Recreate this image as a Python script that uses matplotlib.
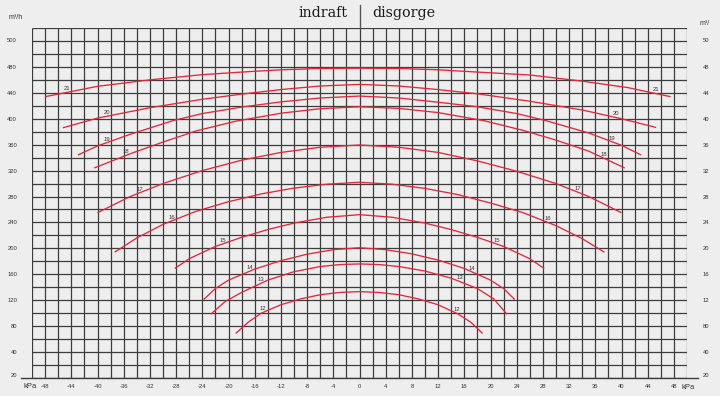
import matplotlib
matplotlib.use("Agg")
import matplotlib.pyplot as plt
import numpy as np

# pressure (kPa) / flow (m3/h) points
k21 = [-48, -40, -32, -24, -18, -12, -6, 0, 6, 12, 18, 26, 34, 41, 47.5]
v21 = [434, 450, 460, 468, 472, 475.5, 477.5, 478, 477.5, 475.5, 472, 467.5, 458, 448, 434]
k20 = [-45.3, -40, -32, -24, -18, -12, -6, 0, 6, 12, 18, 26, 34, 40, 45.3]
v20 = [386, 401, 417, 430, 438, 445, 450.5, 453, 450.5, 445, 438.5, 427, 413.5, 400, 386.5]
k19 = [-43, -40, -35, -28.5, -24, -18, -12, -6, 0, 6, 12, 18, 24, 28.5, 35, 40, 43]
v19 = [344, 358, 376, 397, 408, 418, 426, 432, 435, 432, 425.5, 418.5, 408, 397, 378, 359, 344]
k18 = [-40.5, -35, -30, -25, -19, -12, -6, 0, 6, 12, 19, 25, 30, 35, 40.5]
v18 = [324, 346, 364, 381, 396, 408.5, 415.5, 418.5, 416, 409.5, 397, 382, 367, 350, 324]
k17 = [-40, -35, -30, -24, -18, -12, -6, 0, 6, 12, 18, 24, 30, 35, 40]
v17 = [255, 280, 300, 320, 336, 348, 356, 359.5, 356, 348, 335, 319, 300, 280, 255]
k16 = [-37.4, -34, -30, -25, -20, -15, -10, -5, 0, 5, 10, 15, 20, 25, 30, 34, 37.4]
v16 = [194, 216, 237, 257, 272, 284, 293, 299, 302, 299, 292.5, 283, 270, 255, 235, 215, 194]
k15 = [-28.2, -26, -22, -18, -14, -10, -5, 0, 5, 10, 14, 18, 22, 26, 28.2]
v15 = [169, 184, 203, 217, 229, 239, 248, 252, 248, 239, 229, 217, 203, 184, 169]
k14 = [-23.8, -22, -20, -16, -12, -8, -4, 0, 4, 8, 12, 16, 20, 22, 23.7]
v14 = [121, 138, 151, 168, 181, 191, 198, 201, 198, 191.5, 182, 169, 151, 138, 121]
k13 = [-22.7, -20.5, -18, -14, -10, -6, -3, 0, 3, 6, 10, 14, 18, 20.5, 22.5]
v13 = [98.5, 118, 132, 151, 164, 172, 175, 176, 175, 172, 165, 154, 138, 122, 98.5]
k12 = [-18.9, -17, -15, -12, -9, -6, -3, 0, 3, 6, 9, 12, 15, 17, 18.8]
v12 = [68.7, 86, 100, 113, 122, 128.5, 132, 133.3, 132, 128.5, 122, 113, 99, 86, 68.7]

curve_names = ["21", "20", "19", "18", "17", "16", "15", "14", "13", "12"]
curve_k = [k21, k20, k19, k18, k17, k16, k15, k14, k13, k12]
curve_v = [v21, v20, v19, v18, v17, v16, v15, v14, v13, v12]
# where the number labels sit along each curve (left, right)
label_k = [(-44.7, 45.2), (-38.6, 39.2), (-38.6, 38.6), (-35.6, 37.3), (-33.6, 33.3),
           (-28.7, 28.7), (-20.9, 20.9), (-16.8, 17.2), (-15.0, 15.3), (-14.7, 14.9)]

x_ticks = list(range(-48, 49, 4))
x_labels = [str(t) for t in x_ticks]
y_ticks = [5, 40, 80, 120, 160, 200, 240, 280, 320, 360, 400, 440, 480, 521]
y_labels = ["20", "40", "80", "120", "160", "200", "240", "280", "320", "360",
            "400", "440", "480", "500"]
y_labels_right = ["20", "40", "80", "12", "16", "20", "24", "28", "32", "36",
                  "40", "44", "48", "50"]

BG = "#eeeeee"
GRID = "#3d3d3d"
RED = "#e3263b"
TXT = "#333333"
SANS = ["Liberation Sans", "DejaVu Sans"]

fig = plt.figure(figsize=(7.2, 3.96), dpi=100, facecolor=BG)
ax = fig.add_axes([32 / 720, 18 / 396, 655 / 720, 350 / 396])
ax.set_facecolor(BG)
ax.set_xlim(-50, 50)
ax.set_ylim(0, 540)
for s in ax.spines.values():
    s.set_visible(False)

ax.vlines(np.arange(-50, 51, 2), 0, 540, color=GRID, lw=0.9, zorder=1)
ax.hlines(np.arange(0, 541, 20), -50, 50, color=GRID, lw=0.9, zorder=1)
ax.axhline(0, xmin=-0.017, xmax=1.017, color=GRID, lw=1.0, clip_on=False)
ax.axvline(0, ymin=1.0, ymax=1.066, color="#555555", lw=1.0, clip_on=False)

for name, ks, vs, (kl, kr) in zip(curve_names, curve_k, curve_v, label_k):
    ax.plot(ks, vs, color=RED, lw=0.95, zorder=3, solid_capstyle="butt",
            solid_joinstyle="round")
    for kx in (kl, kr):
        ax.annotate(name, (kx, np.interp(kx, ks, vs)), xytext=(0, 0.8),
                    textcoords="offset points", ha="center", va="bottom",
                    fontsize=4.2, color=TXT, family=SANS, zorder=4)

ax.set_xticks(x_ticks)
ax.set_xticklabels(x_labels, fontsize=4.2, color=TXT, family=SANS)
ax.set_yticks(y_ticks)
ax.set_yticklabels(y_labels, fontsize=4.2, color=TXT, family=SANS)
ax.tick_params(axis="x", length=0, pad=4.5)
ax.tick_params(axis="y", length=0, pad=10.8)

ax2 = ax.twinx()
ax2.set_ylim(0, 540)
for s in ax2.spines.values():
    s.set_visible(False)
ax2.set_yticks(y_ticks)
ax2.set_yticklabels(y_labels_right, fontsize=4.2, color=TXT, family=SANS)
ax2.tick_params(axis="y", length=0, pad=11.5)

fig.text(16 / 720, 1 - 17.5 / 396, "m³/h", fontsize=5, color=TXT, family=SANS,
         ha="center", va="center")
fig.text(700 / 720, 1 - 23.5 / 396, "m³/", fontsize=5, color=TXT, family=SANS,
         ha="left", va="center")
fig.text(30 / 720, 1 - 387 / 396, "kPa", fontsize=5.5, color=TXT, family=SANS,
         ha="center", va="center")
fig.text(682 / 720, 1 - 387.5 / 396, "kPa", fontsize=5.5, color=TXT, family=SANS,
         ha="left", va="center")

fig.text(348 / 720, 1 - 17 / 396, "indraft", fontsize=10.3, color="#1a1a1a",
         family="DejaVu Serif", ha="right", va="baseline")
fig.text(372 / 720, 1 - 17 / 396, "disgorge", fontsize=10.3, color="#1a1a1a",
         family="DejaVu Serif", ha="left", va="baseline")

fig.savefig("out.png", dpi=100, facecolor=BG)
